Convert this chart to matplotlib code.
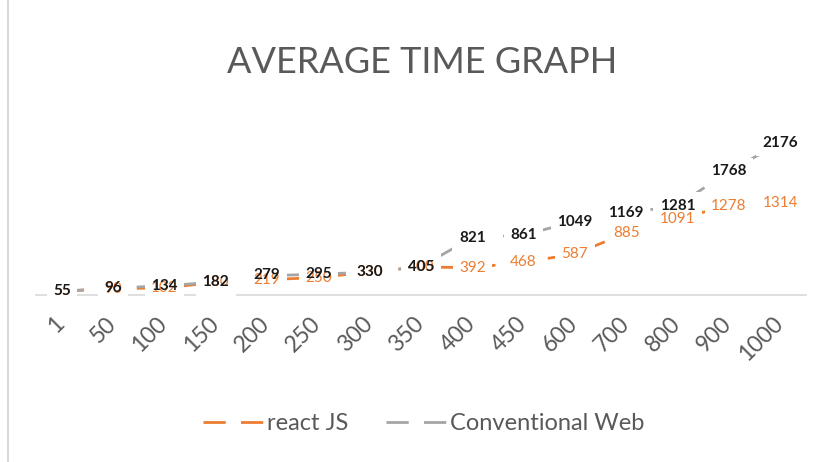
import matplotlib.pyplot as plt
import matplotlib.transforms as mtransforms
from matplotlib.lines import Line2D

# chart data
categories = ["1", "50", "100", "150", "200", "250", "300", "350",
              "400", "450", "600", "700", "800", "900", "1000"]
react_js = [55, 90, 102, 180, 219, 250, 330, 400,
            392, 468, 587, 885, 1091, 1278, 1314]
conventional = [55, 96, 134, 182, 279, 295, 330, 405,
                821, 861, 1049, 1169, 1281, 1768, 2176]

orange = "#ED7D31"
gray = "#A5A5A5"
text_gray = "#595959"

plt.rcParams['font.family'] = ['Lato', 'DejaVu Sans']

fig = plt.figure(figsize=(8.23, 4.62), dpi=100)
ax = fig.add_axes([0.044, 0.3615, 0.935, 0.378])

x = list(range(len(categories)))
ax.plot(x, react_js, color=orange, lw=2, dashes=(8, 5.5), zorder=1,
        label="react JS")
ax.plot(x, conventional, color=gray, lw=2, dashes=(8, 5.5), zorder=1,
        label="Conventional Web")

# white boxes behind labels hide most of the lines (like Excel's label fill)
for series in (react_js, conventional):
    for xi, v in zip(x, series):
        ax.text(xi, v, str(v), ha="center", va="center", fontsize=11,
                fontweight="bold", color="none", zorder=2,
                bbox=dict(boxstyle="square,pad=0.42", fc="white", ec="none"))

for xi, v in zip(x, react_js):
    ax.text(xi, v, str(v), ha="center", va="center", fontsize=11,
            color=orange, zorder=3)
for xi, v in zip(x, conventional):
    ax.text(xi, v, str(v), ha="center", va="center", fontsize=11,
            fontweight="bold", color="#1a1a1a", zorder=4)

ax.set_xlim(-0.5, len(categories) - 0.5)
ax.set_ylim(0, 2500)
ax.set_yticks([])
ax.set_xticks(x)
ax.set_xticklabels(categories, rotation=45, ha="right",
                   rotation_mode="anchor", fontsize=16.5, color=text_gray)
ax.tick_params(axis="x", length=0, pad=13)
shift = mtransforms.ScaledTranslation(-8 / 100, 0, fig.dpi_scale_trans)
for lab in ax.get_xticklabels():
    lab.set_transform(lab.get_transform() + shift)
for side in ("top", "left", "right"):
    ax.spines[side].set_visible(False)
ax.spines["bottom"].set_color("#D9D9D9")
ax.spines["bottom"].set_linewidth(1.2)
ax.spines["bottom"].set_zorder(0)

fig.text(0.513, 0.865, "AVERAGE TIME GRAPH", ha="center", va="center",
         fontsize=26, color=text_gray)

fig.legend(loc="center", bbox_to_anchor=(0.515, 0.083), ncol=2,
           frameon=False, fontsize=17, handlelength=2.6,
           handletextpad=0.1, columnspacing=1.6, labelcolor=text_gray)

# chart frame edge on the left
fig.add_artist(Line2D([0.01, 0.01], [0, 1], color="#D9D9D9", lw=1.5,
                      transform=fig.transFigure))

fig.savefig("out.png", dpi=100)
